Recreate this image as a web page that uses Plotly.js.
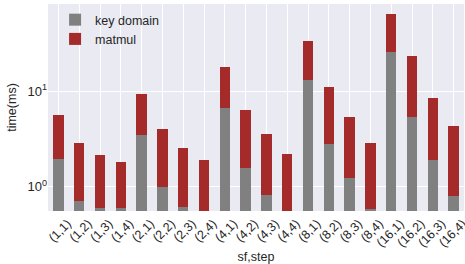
<!DOCTYPE html>
<html><head><meta charset="utf-8">
<script src="https://cdn.plot.ly/plotly-3.0.1.min.js"></script>
<style>html,body{margin:0;padding:0;background:#fff}#c{width:465px;height:264px}</style>
</head><body><div id="c"></div>
<script>
const categories = ["(1,1)","(1,2)","(1,3)","(1,4)","(2,1)","(2,2)","(2,3)","(2,4)","(4,1)","(4,2)","(4,3)","(4,4)","(8,1)","(8,2)","(8,3)","(8,4)","(16,1)","(16,2)","(16,3)","(16,4)"];
const keyDomain = [1.93,0.70,0.59,0.59,3.45,0.98,0.61,0.50,6.63,1.56,0.81,0.56,13.0,2.78,1.22,0.58,25.6,5.34,1.89,0.79];
const totals = [5.6,2.85,2.13,1.80,9.3,3.99,2.52,1.89,17.9,6.32,3.54,2.18,33.5,11.0,5.34,2.85,64.3,23.1,8.45,4.29];
const matmul = totals.map((t,i)=>+(t-keyDomain[i]).toFixed(2));
const yTickVals = [1,10];
const yTickText = ["10<sup>0</sup>","10<sup>1</sup>"];

const font = {family:"Liberation Sans, Arial, sans-serif", size:12, color:"#262626"};
const data = [
  {type:"bar", name:"key domain", x:categories, y:keyDomain, marker:{color:"#808080"}, width:0.5},
  {type:"bar", name:"matmul", x:categories, y:matmul, marker:{color:"#A52A2A"}, width:0.5}
];
const layout = {
  width:465, height:264, barmode:"stack",
  margin:{l:48,r:1,t:4,b:53},
  paper_bgcolor:"#ffffff", plot_bgcolor:"#EAEAF2",
  font:font,
  showlegend:true,
  legend:{x:0.017, y:0.995, xanchor:"left", yanchor:"top", bgcolor:"rgba(0,0,0,0)", font:{size:12.5,color:"#262626"}, traceorder:"normal", tracegroupgap:0},
  xaxis:{type:"category", tickangle:-45, ticklabelshift:9, ticklabelstandoff:2, showgrid:true, gridcolor:"#ffffff", gridwidth:1, zeroline:false, showline:false, ticks:"", tickfont:{size:12.5,color:"#262626"},
         title:{text:"sf,step", font:{size:12.5,color:"#262626"}, standoff:8}, range:[-0.5,19.5]},
  yaxis:{type:"log", range:[Math.log10(0.555), Math.log10(81.8)], tickvals:yTickVals, ticktext:yTickText, showgrid:true, gridcolor:"#ffffff", gridwidth:1, zeroline:false, showline:false, ticks:"", tickfont:{size:13,color:"#262626"},
         title:{text:"time(ms)", font:{size:12.5,color:"#262626"}, standoff:8}}
};
Plotly.newPlot("c", data, layout, {displayModeBar:false, staticPlot:true});
</script></body></html>
